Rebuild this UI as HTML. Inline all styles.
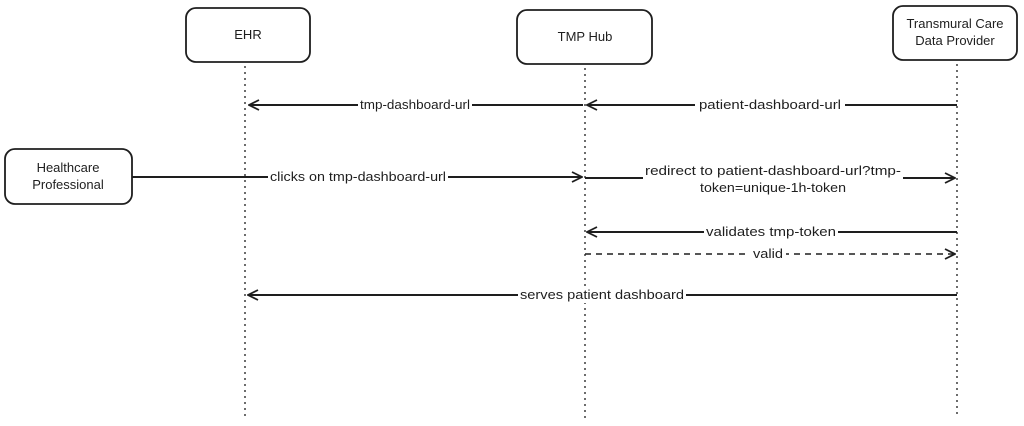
<!DOCTYPE html>
<html><head><style>
body{margin:0;background:#fff;}
svg{display:block}
text{font-family:"Liberation Sans",sans-serif;font-size:13px;fill:#1e1e1e}
</style></head><body>
<svg width="1024" height="426" viewBox="0 0 1024 426">
<defs>
<marker id="a" viewBox="0 0 12 12" refX="11" refY="6" markerWidth="12" markerHeight="12" markerUnits="userSpaceOnUse" orient="auto-start-reverse">
<path d="M1,1 L11,6 L1,11" fill="none" stroke="#1e1e1e" stroke-width="1.8"/></marker>
</defs>
<g fill="none" stroke="#1e1e1e" stroke-width="1.3" stroke-dasharray="2,4">
<line x1="245" y1="66" x2="245" y2="418"/>
<line x1="585" y1="68" x2="585" y2="418"/>
<line x1="957" y1="64" x2="957" y2="418"/>
</g>
<g fill="#fff" stroke="#1e1e1e" stroke-width="1.8">
<rect x="186" y="8" width="124" height="54" rx="10"/>
<rect x="517" y="10" width="135" height="54" rx="10"/>
<rect x="893" y="6" width="124" height="54" rx="10"/>
<rect x="5" y="149" width="127" height="55" rx="10"/>
</g>
<g text-anchor="middle">
<text x="248" y="39">EHR</text>
<text x="585" y="41">TMP Hub</text>
<text x="955" y="28">Transmural Care</text>
<text x="955" y="45">Data Provider</text>
<text x="68" y="172">Healthcare</text>
<text x="68" y="189">Professional</text>
</g>
<g stroke="#1e1e1e" stroke-width="2" fill="none">
<line x1="957" y1="105" x2="587" y2="105" marker-end="url(#a)"/>
<line x1="583" y1="105" x2="249" y2="105" marker-end="url(#a)"/>
<line x1="132" y1="177" x2="582" y2="177" marker-end="url(#a)"/>
<line x1="585" y1="178" x2="643" y2="178"/>
<line x1="903" y1="178" x2="955" y2="178" marker-end="url(#a)"/>
<line x1="957" y1="232" x2="587" y2="232" marker-end="url(#a)"/>
<line x1="585" y1="254" x2="955" y2="254" stroke-width="1.5" stroke-dasharray="6,5" marker-end="url(#a)"/>
<line x1="957" y1="295" x2="248" y2="295" marker-end="url(#a)"/>
</g>
<g text-anchor="middle">
<rect x="695" y="97" width="150" height="16" fill="#fff"/>
<text x="770" y="109" textLength="142" lengthAdjust="spacingAndGlyphs">patient-dashboard-url</text>
<rect x="358" y="97" width="114" height="16" fill="#fff"/>
<text x="415" y="109" textLength="110" lengthAdjust="spacingAndGlyphs">tmp-dashboard-url</text>
<rect x="268" y="169" width="180" height="16" fill="#fff"/>
<text x="358" y="181" textLength="176" lengthAdjust="spacingAndGlyphs">clicks on tmp-dashboard-url</text>
<text x="773" y="175" textLength="256" lengthAdjust="spacingAndGlyphs">redirect to patient-dashboard-url?tmp-</text>
<text x="773" y="192" textLength="146" lengthAdjust="spacingAndGlyphs">token=unique-1h-token</text>
<rect x="704" y="224" width="134" height="16" fill="#fff"/>
<text x="771" y="236" textLength="130" lengthAdjust="spacingAndGlyphs">validates tmp-token</text>
<rect x="750" y="246" width="36" height="16" fill="#fff"/>
<text x="768" y="258" textLength="30" lengthAdjust="spacingAndGlyphs">valid</text>
<rect x="518" y="287" width="168" height="16" fill="#fff"/>
<text x="602" y="299" textLength="164" lengthAdjust="spacingAndGlyphs">serves patient dashboard</text>
</g>
</svg>
</body></html>
